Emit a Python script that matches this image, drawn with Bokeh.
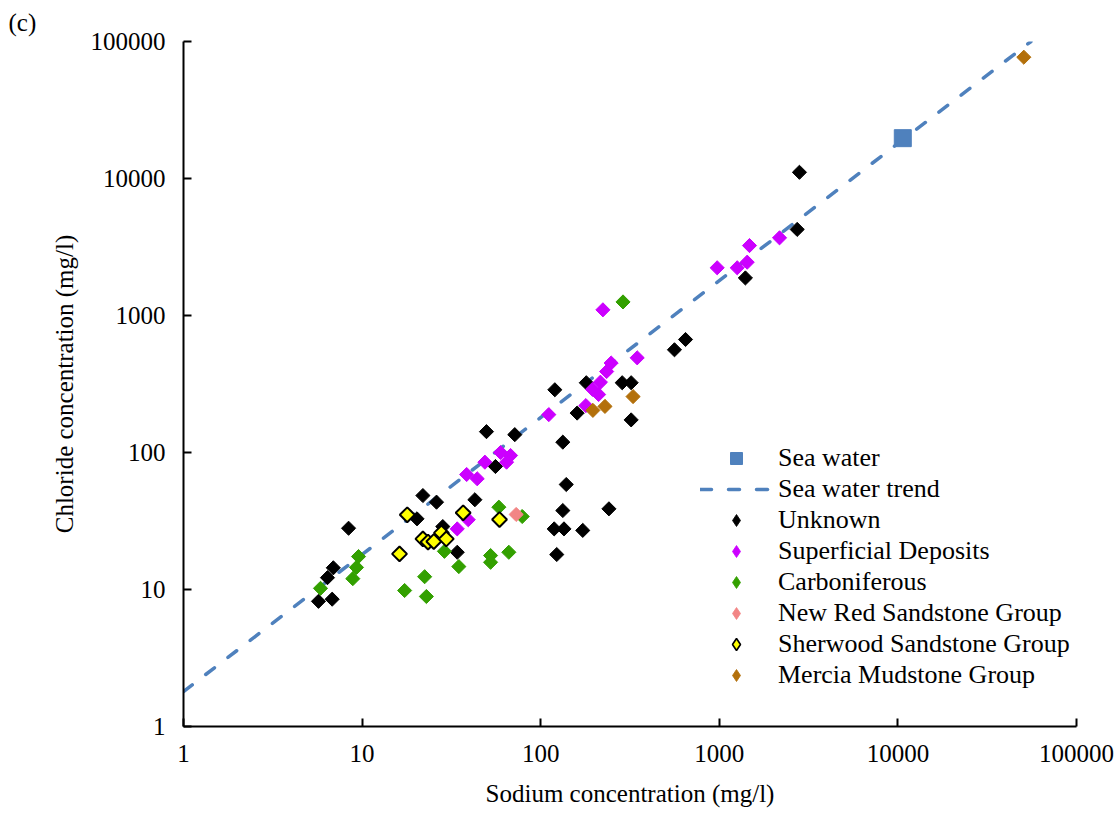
import numpy as np
from bokeh.plotting import figure
from bokeh.models import ColumnDataSource, Range1d, FixedTicker, Legend, LegendItem, Title, PrintfTickFormatter
from bokeh.embed import file_html
from bokeh.resources import INLINE

FONT = "Liberation Serif"

tick_values = [1, 10, 100, 1000, 10000, 100000]
tick_labels = ["1", "10", "100", "1000", "10000", "100000"]

x_title = "Sodium concentration (mg/l)"
y_title = "Chloride concentration (mg/l)"
panel_tag = "(c)"

# Sea water reference point and sea water dilution trend (Cl ~ 1.8 x Na)
sea_na = [10650]
sea_cl = [19700]
trend_na = [1, 55600]
trend_cl = [1.8, 100000]

unknown_na = [5.7, 6.8, 6.4, 6.9, 8.4, 21.9, 26.1, 20.3, 28.3, 34.1, 42.8, 49.7, 71.6, 55.8,
              139, 133, 241, 119, 135, 172, 123, 133, 120, 160, 180, 286, 321, 321, 561, 647,
              1400, 2730, 2810]
unknown_cl = [8.2, 8.5, 12.2, 14.4, 28.0, 48.5, 43.4, 32.8, 28.8, 18.7, 45.2, 142, 135, 79,
              58.4, 37.7, 38.8, 27.7, 27.7, 27.0, 18.0, 119, 287, 194, 323, 323, 323, 173, 562, 668,
              1880, 4250, 11100]

superficial_na = [34.1, 39.3, 38.5, 44.1, 48.7, 59.6, 67.8, 64.4, 111, 179, 211, 195, 216, 234,
                  248, 347, 223, 973, 1260, 1433, 1476, 2174]
superficial_cl = [27.7, 32.3, 69.1, 64.3, 85.0, 100, 95.1, 85.0, 189, 220, 265, 289, 326, 390,
                  450, 491, 1100, 2230, 2230, 2450, 3240, 3690]

carb_na = [5.85, 8.87, 9.30, 9.55, 17.3, 22.4, 22.9, 28.9, 34.8, 52.4, 52.4, 66.3, 58.3, 78.8, 289]
carb_cl = [10.2, 12.0, 14.5, 17.4, 9.83, 12.4, 8.89, 19.0, 14.7, 17.7, 15.8, 18.7, 39.9, 34.1, 1256]

nrs_na = [72.9]
nrs_cl = [35.3]

sherwood_na = [17.9, 16.2, 21.9, 23.4, 25.2, 27.8, 29.6, 36.8, 58.8]
sherwood_cl = [35.1, 18.2, 23.4, 22.2, 22.4, 25.9, 23.4, 36.3, 32.4]

mercia_na = [196, 229, 329, 50700]
mercia_cl = [203, 217, 256, 76800]

p = figure(frame_width=893, frame_height=685,
           x_axis_type="log", y_axis_type="log",
           x_range=Range1d(1, 100000), y_range=Range1d(1, 100000),
           output_backend="svg", toolbar_location=None,
           min_border_left=183, min_border_top=41, min_border_right=44, min_border_bottom=87)
p.outline_line_color = None
p.grid.visible = False
p.background_fill_color = "white"

for ax in (p.xaxis[0], p.yaxis[0]):
    ax.ticker = FixedTicker(ticks=tick_values, minor_ticks=[])
    ax.formatter = PrintfTickFormatter(format="%d")
    ax.major_label_overrides = {v: l for v, l in zip(tick_values, tick_labels)}
    ax.axis_line_color = "black"
    ax.axis_line_width = 2
    ax.major_tick_line_color = "black"
    ax.major_tick_line_width = 2
    ax.major_tick_in = 8
    ax.major_tick_out = 0
    ax.minor_tick_line_color = None
    ax.major_label_text_font = FONT
    ax.major_label_text_font_size = "25px"
    ax.major_label_text_color = "black"
    ax.axis_label_text_font = FONT
    ax.axis_label_text_font_size = "25px"
    ax.axis_label_text_font_style = "normal"
    ax.axis_label_text_color = "black"

p.xaxis[0].axis_label = x_title
p.yaxis[0].axis_label = y_title
p.xaxis[0].major_label_standoff = 18
p.xaxis[0].axis_label_standoff = 15
p.yaxis[0].major_label_standoff = 18
p.yaxis[0].axis_label_standoff = 10

BLUE = "#4F81BD"

trend_r = p.line(trend_na, trend_cl, line_color=BLUE, line_width=3.5, line_dash="11 17",
                 line_cap="round")

sea_r = p.scatter(sea_na, sea_cl, marker="square", size=17, fill_color=BLUE, line_color=BLUE,
                  line_width=1)

groups = [
    ("Unknown", unknown_na, unknown_cl, "#000000", "#000000", 1),
    ("Superficial Deposits", superficial_na, superficial_cl, "#CC00FF", "#CC00FF", 1),
    ("Carboniferous", carb_na, carb_cl, "#33A000", "#33A000", 1),
    ("New Red Sandstone Group", nrs_na, nrs_cl, "#F28585", "#F28585", 1),
    ("Sherwood Sandstone Group", sherwood_na, sherwood_cl, "#FFFF00", "#000000", 2),
    ("Mercia Mudstone Group", mercia_na, mercia_cl, "#B3700B", "#B3700B", 1),
]

items = [LegendItem(label="Sea water", renderers=[sea_r]),
         LegendItem(label="Sea water trend", renderers=[trend_r])]

for name, na, cl, fill, line, lw in groups:
    src = ColumnDataSource(dict(na=na, cl=cl))
    size = 10.5 if lw == 2 else 10
    p.scatter("na", "cl", source=src, marker="square", angle=np.pi / 4, size=size,
              fill_color=fill, line_color=line, line_width=lw)
    leg_r = p.scatter("na", "cl", source=src, marker="diamond", size=12,
                      fill_color=fill, line_color=line, line_width=lw * 0.8, visible=False)
    items.append(LegendItem(label=name, renderers=[leg_r]))

legend = Legend(items=items, location=(517, 36), padding=0, margin=0, spacing=1,
                glyph_width=72, glyph_height=30, label_height=30, label_standoff=6,
                border_line_color=None, background_fill_alpha=0,
                label_text_font=FONT, label_text_font_size="26px", label_text_color="black")
p.add_layout(legend)

p.add_layout(Title(text=panel_tag, align="left", offset=-175, standoff=8, vertical_align="top",
                   text_font=FONT, text_font_size="25px", text_font_style="normal",
                   text_color="black"), "above")

open("out.html", "w").write(file_html(p, INLINE))
